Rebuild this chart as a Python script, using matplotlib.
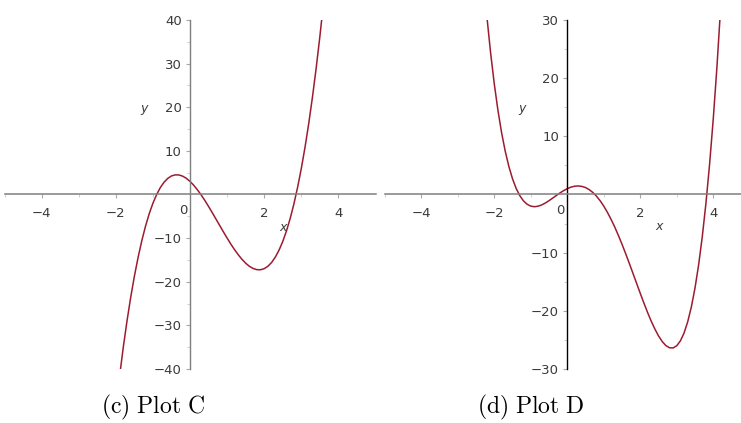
import numpy as np
import matplotlib
matplotlib.use('Agg')
import matplotlib.pyplot as plt

plt.rc('mathtext', fontset='cm')
plt.rc('font', family='DejaVu Sans', size=9)

# values
x_c = [-1.9, -1.8, -1.7, -1.6, -1.5, -1.4, -1.3, -1.2, -1.1, -1.0,
       -0.9, -0.8, -0.7, -0.6, -0.5, -0.4, -0.3, -0.2, -0.1, 0.0,
       0.1, 0.2, 0.3, 0.4, 0.5, 0.6, 0.7, 0.8, 0.9, 1.0,
       1.1, 1.2, 1.3, 1.4, 1.5, 1.6, 1.7, 1.8, 1.9, 2.0,
       2.1, 2.2, 2.3, 2.4, 2.5, 2.6, 2.7, 2.8, 2.9, 3.0,
       3.1, 3.2, 3.3, 3.4, 3.5, 3.6]
y_c = [-41.73, -35.09, -29.06, -23.62, -18.75, -14.42, -10.60, -7.27, -4.41, -2.0,
       -0.01, 1.59, 2.82, 3.70, 4.25, 4.50, 4.48, 4.21, 3.71, 3.0,
       2.11, 1.07, -0.10, -1.38, -2.75, -4.18, -5.64, -7.11, -8.57, -10.0,
       -11.37, -12.65, -13.82, -14.86, -15.75, -16.46, -16.96, -17.23, -17.25, -17.0,
       -16.45, -15.57, -14.34, -12.74, -10.75, -8.34, -5.48, -2.15, 1.67, 6.0,
       10.87, 16.31, 22.34, 28.98, 36.25, 44.18]

x_d = [-2.3, -2.2, -2.1, -2.0, -1.9, -1.8, -1.7, -1.6, -1.5, -1.4,
       -1.3, -1.2, -1.1, -1.0, -0.9, -0.8, -0.7, -0.6, -0.5, -0.4,
       -0.3, -0.2, -0.1, 0.0, 0.1, 0.2, 0.3, 0.4, 0.5, 0.6,
       0.7, 0.8, 0.9, 1.0, 1.1, 1.2, 1.3, 1.4, 1.5, 1.6,
       1.7, 1.8, 1.9, 2.0, 2.1, 2.2, 2.3, 2.4, 2.5, 2.6,
       2.7, 2.8, 2.9, 3.0, 3.1, 3.2, 3.3, 3.4, 3.5, 3.6,
       3.7, 3.8, 3.9, 4.0, 4.1, 4.2, 4.3]
y_d = [37.43, 30.41, 24.29, 19.0, 14.47, 10.63, 7.43, 4.80, 2.69, 1.03,
       -0.21, -1.10, -1.68, -2.0, -2.10, -2.01, -1.79, -1.46, -1.06, -0.62,
       -0.17, 0.27, 0.66, 1.0, 1.26, 1.42, 1.47, 1.39, 1.19, 0.84,
       0.35, -0.29, -1.07, -2.0, -3.07, -4.27, -5.59, -7.03, -8.56, -10.17,
       -11.85, -13.56, -15.28, -17.0, -18.67, -20.28, -21.78, -23.13, -24.31, -25.27,
       -25.97, -26.35, -26.38, -26.0, -25.16, -23.81, -21.88, -19.32, -16.06, -12.05,
       -7.20, -1.46, 5.25, 13.0, 21.87, 31.95, 43.30]

xticks = [-4, -2, 2, 4]
xminor = [-5, -3, -1, 1, 3]
yticks_c = [-40, -30, -20, -10, 10, 20, 30, 40]
yminor_c = [-35, -25, -15, -5, 5, 15, 25, 35]
yticks_d = [-30, -20, -10, 10, 20, 30]
yminor_d = [-25, -15, -5, 5, 15, 25]

CURVE = '#9b1c31'
GRAY = '#7f7f7f'
TXT = '#3a3a3a'

fig = plt.figure(figsize=(7.41, 4.23), dpi=100)
ax_c = fig.add_axes([0.0061, 0.1277, 0.5007, 0.825])
ax_d = fig.add_axes([0.5193, 0.1277, 0.4807, 0.825])


def maple_axes(ax, xlim, ylim, yticks, yminor, ycol):
    ax.patch.set_alpha(0)
    for s in ['top', 'right']:
        ax.spines[s].set_visible(False)
    ax.spines['left'].set_position(('data', 0))
    ax.spines['bottom'].set_position(('data', 0))
    ax.spines['bottom'].set_color(GRAY)
    ax.spines['left'].set_color(ycol)
    ax.spines['bottom'].set_linewidth(1.1)
    ax.spines['left'].set_linewidth(1.0)
    ax.set_xticks(xticks)
    ax.set_xticks(xminor, minor=True)
    ax.set_xticklabels(['\u22124', '\u22122', '2', '4'])
    ax.set_yticks(yticks)
    ax.set_yticks(yminor, minor=True)
    ax.set_yticklabels([('\u2212%d' % -v) if v < 0 else str(v) for v in yticks])
    ax.set_xlim(*xlim)
    ax.set_ylim(*ylim)
    ax.tick_params(which='major', direction='out', length=3, width=0.8,
                   color='#a8a8a8', labelcolor=TXT, labelsize=9.5, pad=6)
    ax.tick_params(axis='y', which='major', pad=3)
    ax.tick_params(which='minor', direction='out', length=2.5, width=0.6,
                   color='#c8c8c8')
    ax.annotate('0', xy=(0, 0), xytext=(-2, -7), textcoords='offset points',
                ha='right', va='top', color=TXT, fontsize=9.5)


maple_axes(ax_c, (-5, 5), (-40, 40), yticks_c, yminor_c, GRAY)
ax_c.plot(x_c, y_c, color=CURVE, lw=1.1)
ax_c.text(2.5, -7.5, 'x', style='italic', color=TXT, fontsize=9,
          ha='center', va='center')
ax_c.text(-1.25, 19.7, 'y', style='italic', color=TXT, fontsize=9,
          ha='center', va='center')

maple_axes(ax_d, (-5, 4.76), (-30, 30), yticks_d, yminor_d, 'black')
ax_d.plot(x_d, y_d, color=CURVE, lw=1.1)
ax_d.text(2.52, -5.5, 'x', style='italic', color=TXT, fontsize=9,
          ha='center', va='center')
ax_d.text(-1.23, 14.7, 'y', style='italic', color=TXT, fontsize=9,
          ha='center', va='center')

fig.text(153/741, 1 - 407/423, r'$\mathrm{(c)\ Plot\ C}$', fontsize=17,
         ha='center', va='center')
fig.text(531/741, 1 - 407/423, r'$\mathrm{(d)\ Plot\ D}$', fontsize=17,
         ha='center', va='center')

fig.savefig('out.png', dpi=100)
plt.close(fig)
